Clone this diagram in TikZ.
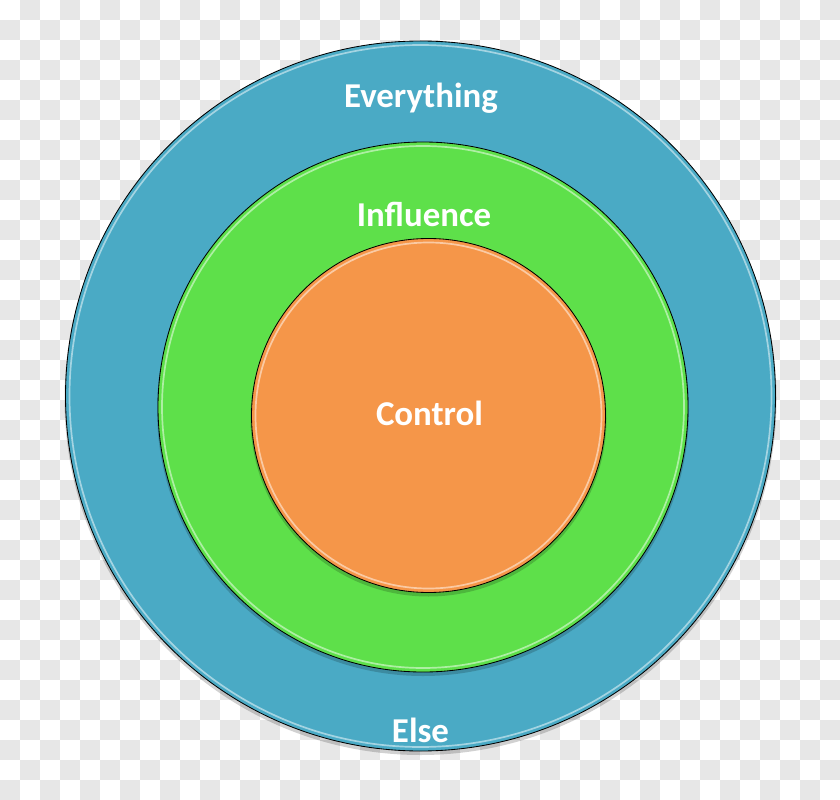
\documentclass[tikz,border=0pt]{standalone}
\usepackage{fontspec}
\setmainfont{Carlito}
\usepackage{tikz}
\usetikzlibrary{calc}
\definecolor{cblue}{RGB}{74,170,197}
\definecolor{cgreen}{RGB}{94,224,74}
\definecolor{corange}{RGB}{245,150,73}
\definecolor{cchk}{RGB}{231,231,231}

\begin{document}
\begin{tikzpicture}[x=0.025cm, y=-0.025cm,
  ring/.style={draw=black, line width=0.6pt},
  shine/.style={draw=white, opacity=0.5, line width=1.2pt},
  shade/.style={fill=black, opacity=0.18},
  lbl/.style={text=white, font=\bfseries\fontsize{24.8}{28}\selectfont, anchor=base, inner sep=0pt}]
\useasboundingbox (0,0) rectangle (840,800);
% checker background
\fill[white] (0,0) rectangle (840,800);
\foreach \j in {0,...,39}{
  \foreach \i in {0,2,...,40}{
    \pgfmathsetmacro{\cx}{20*(\i+1-mod(\j,2))}
    \fill[cchk] (\cx,20*\j) rectangle ++(20,20);
  }
}
% rings
\coordinate (cb) at (420.5,396);
\coordinate (cg) at (423,407);
\coordinate (co) at (428.5,415.5);
\fill[shade] ($(cb)+(0,3)$) circle[radius=356];
\fill[cblue] (cb) circle[radius=355];
\draw[shine] (cb) circle[radius=351];
\draw[ring] (cb) circle[radius=355];
\fill[shade] ($(cg)+(0,3)$) circle[radius=266];
\fill[cgreen] (cg) circle[radius=265];
\draw[shine] (cg) circle[radius=261];
\draw[ring] (cg) circle[radius=265];
\fill[shade] ($(co)+(0,3)$) circle[radius=178];
\fill[corange] (co) circle[radius=177];
\draw[shine] (co) circle[radius=173];
\draw[ring] (co) circle[radius=177];
% labels
\node[lbl] (every) at (421,108) {Everything};
\node[lbl] (infl) at (424,227) {Influence};
\node[lbl] (ctrl) at (429.5,425) {Control};
\node[lbl] (else) at (420.5,742) {Else};
\end{tikzpicture}
\end{document}
